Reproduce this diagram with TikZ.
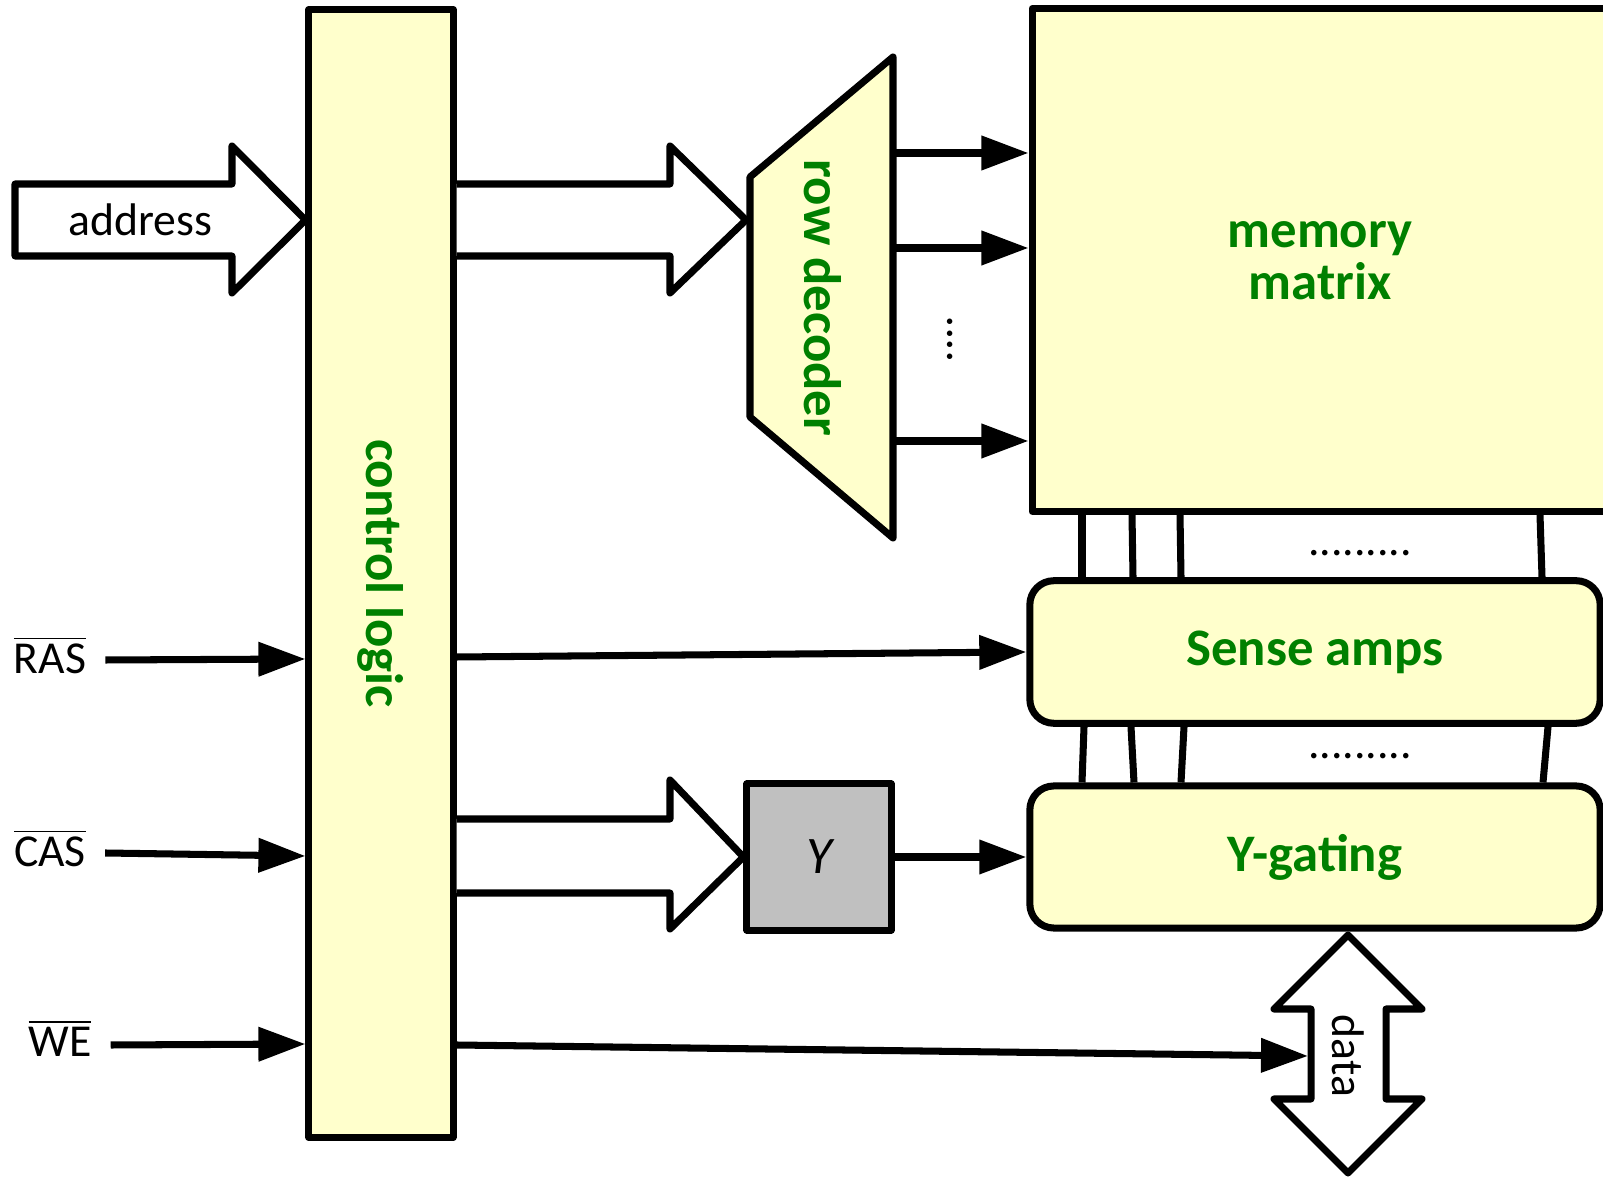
\documentclass[tikz,border=0pt]{standalone}
\usepackage{fontspec}
\setmainfont{Carlito}
\usepackage{tikz}
\usetikzlibrary{arrows.meta,calc}

\definecolor{boxfill}{HTML}{FFFFCC}
\definecolor{labgreen}{HTML}{008000}
\definecolor{ygray}{HTML}{C0C0C0}

\begin{document}
\begin{tikzpicture}[x=0.01cm,y=-0.01cm,line width=2pt,line join=round,
    blk/.style={draw,fill=boxfill},
    lab/.style={text=labgreen,font=\fontsize{15}{14.8}\selectfont\bfseries},
    txt/.style={font=\fontsize{13}{15}\selectfont},
    sig/.style={-{Triangle[length=0.47cm,width=0.33cm]}}]
    \useasboundingbox (0,0) rectangle (1603,1177);
    % 控制逻辑
    \node[blk,minimum width=1.44cm,minimum height=11.27cm] (ctrl) at (381,573.5) {};
    \node[lab,rotate=-90] (ctrltext) at (ctrl.center) {control logic};
    % 存储矩阵
    \node[blk,anchor=north west,minimum width=6cm,minimum height=5.025cm] (mem) at (1028.5,5) {};
    \node[lab,align=center] (memtext) at (1320,261) {memory\\matrix};
    % 行译码器
    \draw[fill=boxfill] (750,177) coordinate (dec-nw) -- (893,57) coordinate (dec-ne)
        -- (893,538) -- (750,417) -- cycle;
    \node[lab,rotate=-90] (dec) at (823,298) {row decoder};
    \coordinate (dec-in) at (746,220);
    \foreach \y in {153,248,441}
        \draw[sig] (dec-ne |- 0,\y) -- (mem.west |- 0,\y);
    \node[txt,rotate=90] (vdots) at (950,339) {....};
    % 读出放大器, Y 选通
    \node[blk,lab,rounded corners=0.24cm,minimum width=5.7cm,minimum height=1.425cm] (sense) at (1315,652) {Sense amps};
    \node[blk,lab,rounded corners=0.24cm,minimum width=5.7cm,minimum height=1.42cm] (ygate) at (1315,857) {Y-gating};
    \foreach \a/\b in {1082/1082,1132/1133,1180/1181,1540/1542}
        \draw (mem.south -| \a,0) -- (sense.north -| \b,0);
    \foreach \a/\b in {1084/1082,1131/1134,1184/1181,1548/1543}
        \draw (sense.south -| \a,0) -- (ygate.north -| \b,0);
    \node[txt] (dots1) at (1360,553) {.........};
    \node[txt] (dots2) at (1360,756) {.........};
    % 地址
    \draw[fill=white] (ctrl.west |- 0,220) -- (232,146) -- (232,184) -- (15,184)
        -- (15,256) -- (232,256) -- (232,293) -- cycle;
    \node[txt] (addr) at (140,220) {address};
    \draw[fill=white] (ctrl.east |- 0,184) -- (670,184) -- (670,146) -- (dec-in)
        -- (670,293) -- (670,256) -- (ctrl.east |- 0,256);
    % 列地址
    \node[draw,fill=ygray,minimum width=1.44cm,minimum height=1.46cm,
        font=\fontsize{15}{15}\selectfont\itshape] (Y) at (819,857) {Y};
    \draw[fill=white] (ctrl.east |- 0,819) -- (670,819) -- (670,780) -- (Y.west)
        -- (670,929) -- (670,893) -- (ctrl.east |- 0,893);
    \draw[sig] (Y) -- (ygate);
    % 控制信号
    \node[txt] (ras) at (50,655) {$\overline{\hbox{RAS}}$};
    \node[txt] (cas) at (50,848) {$\overline{\hbox{CAS}}$};
    \node[txt] (we) at (60,1038) {$\overline{\hbox{WE}}$};
    \draw[sig] ([xshift=0.04cm]ras.east |- 0,660) -- (ctrl.west |- 0,659);
    \draw[sig] ([xshift=0.04cm]cas.east |- 0,853) -- (ctrl.west |- 0,856);
    \draw[sig] ([xshift=0.04cm]we.east |- 0,1045) -- (ctrl.west |- 0,1044);
    \draw[sig] (ctrl.east |- 0,657) -- (sense.west);
    % 数据
    \coordinate (data-top) at (1348,935);
    \coordinate (data-in) at (1308,1056);
    \draw[fill=white] (data-top) -- (1422,1009) -- (1386,1009) -- (1386,1099) -- (1422,1099)
        -- (1348,1173) -- (1274,1099) -- (1311,1099) -- (1311,1009) -- (1274,1009) -- cycle;
    \node[txt,rotate=-90] (data) at (1348,1056) {data};
    \draw[sig] (ctrl.east |- 0,1045) -- (data-in);
\end{tikzpicture}
\end{document}
